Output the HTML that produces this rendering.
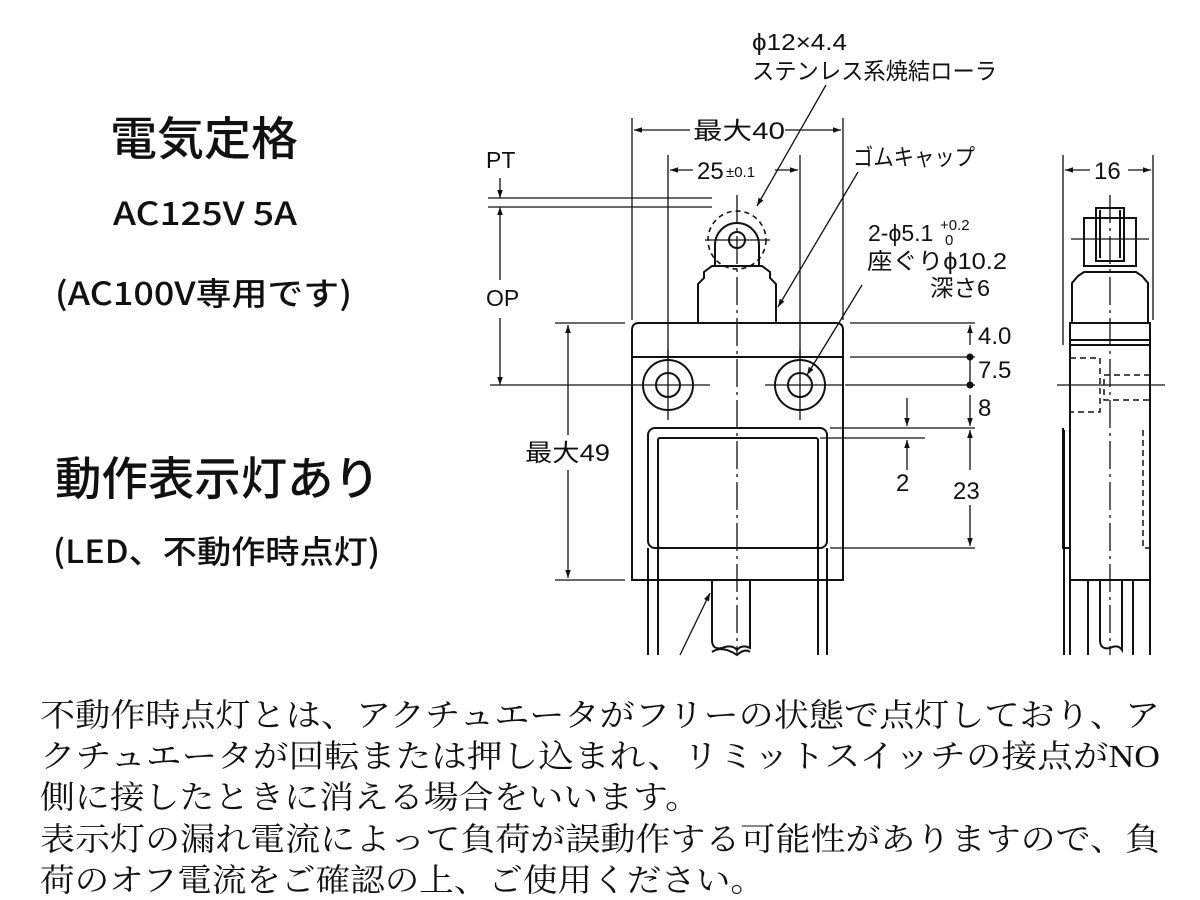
<!DOCTYPE html>
<html><head><meta charset="utf-8"><style>
html,body{margin:0;padding:0;background:#fff}
svg{display:block}
.s{font-family:"Liberation Sans","Noto Sans CJK JP",sans-serif;fill:#111}
.j{font-family:"Noto Sans CJK JP",sans-serif;fill:#111;font-weight:500}
.m{font-family:"Liberation Serif","Noto Serif CJK SC",serif;fill:#111}
</style></head><body>
<svg width="1200" height="900" viewBox="0 0 1200 900" xmlns="http://www.w3.org/2000/svg">
<defs>
<marker id="a" viewBox="0 0 10 10" refX="10" refY="5" markerWidth="11" markerHeight="8" orient="auto-start-reverse" markerUnits="userSpaceOnUse"><path d="M0,1.5 L10,5 L0,8.5z" fill="#111"/></marker>
</defs>
<text class="j" x="110" y="155" font-size="46" textLength="188" lengthAdjust="spacingAndGlyphs">電気定格</text>
<text class="j" x="113" y="225" font-size="32" textLength="184" lengthAdjust="spacingAndGlyphs">AC125V 5A</text>
<text class="j" x="55" y="305" font-size="32" textLength="297" lengthAdjust="spacingAndGlyphs">(AC100V専用です)</text>
<text class="j" x="55" y="495" font-size="46" textLength="325" lengthAdjust="spacingAndGlyphs">動作表示灯あり</text>
<text class="j" x="53" y="563" font-size="32" textLength="327" lengthAdjust="spacingAndGlyphs">(LED、不動作時点灯)</text>

<g stroke="#111" stroke-width="2" fill="none">
<path d="M632,580 L632,330 Q632,323 639,323 L836,323 Q843,323 843,330 L843,580 Z"/>
<line x1="632" y1="357" x2="843" y2="357"/>
<circle cx="668" cy="385" r="25"/><circle cx="668" cy="385" r="12"/>
<circle cx="800" cy="385" r="25"/><circle cx="800" cy="385" r="12"/>
<rect x="648" y="428" width="179" height="120" rx="7"/>
<rect x="658" y="438" width="160" height="110" rx="2"/>
<path d="M698,323 L698,284 L704,278 L704,272 L712,266 L762,266 L770,272 L770,278 L776,284 L776,323"/>
<path d="M715,266 L715,245 A22,22 0 1 1 759,245 L759,266"/>
<circle cx="737" cy="240" r="8"/>
<circle cx="737" cy="240" r="29" stroke-dasharray="5,4" stroke-width="1.6"/>
<path d="M712,580 L712,640 Q712,650 722,648 Q732,644 737,650 Q742,644 750,648 L750,580"/>
<path d="M712,652 Q722,645 737,655 Q745,648 750,652"/>
<line x1="648" y1="548" x2="648" y2="655"/><line x1="658" y1="548" x2="658" y2="655"/>
<line x1="818" y1="548" x2="818" y2="655"/><line x1="827" y1="548" x2="827" y2="655"/>
</g>
<g stroke="#111" stroke-width="1.3" fill="none">
<line x1="737" y1="195" x2="737" y2="655" stroke-dasharray="28,5,3,5"/>
<line x1="705" y1="240" x2="770" y2="240"/>
<line x1="632" y1="385" x2="710" y2="385"/><line x1="765" y1="385" x2="843" y2="385"/>
<line x1="668" y1="350" x2="668" y2="420"/><line x1="800" y1="350" x2="800" y2="420"/>
<line x1="632" y1="118" x2="632" y2="320"/><line x1="843" y1="118" x2="843" y2="320"/>
<line x1="690" y1="130" x2="634" y2="130" marker-end="url(#a)"/>
<line x1="785" y1="130" x2="841" y2="130" marker-end="url(#a)"/>
<line x1="668" y1="155" x2="668" y2="360"/><line x1="800" y1="155" x2="800" y2="360"/>
<line x1="693" y1="170" x2="670" y2="170" marker-end="url(#a)"/>
<line x1="775" y1="170" x2="798" y2="170" marker-end="url(#a)"/>
<line x1="488" y1="198" x2="712" y2="198"/><line x1="488" y1="207" x2="712" y2="207"/>
<line x1="500" y1="178" x2="500" y2="198" marker-end="url(#a)"/>
<line x1="500" y1="280" x2="500" y2="207" marker-end="url(#a)"/>
<line x1="500" y1="318" x2="500" y2="385" marker-end="url(#a)"/>
<line x1="490" y1="385" x2="632" y2="385"/>
<line x1="555" y1="323" x2="625" y2="323"/><line x1="555" y1="580" x2="625" y2="580"/>
<line x1="568" y1="435" x2="568" y2="325" marker-end="url(#a)"/>
<line x1="568" y1="470" x2="568" y2="578" marker-end="url(#a)"/>
<line x1="850" y1="323" x2="975" y2="323"/><line x1="850" y1="357" x2="975" y2="357"/>
<line x1="845" y1="385" x2="975" y2="385"/>
<line x1="830" y1="428" x2="975" y2="428"/><line x1="820" y1="438" x2="925" y2="438"/>
<line x1="830" y1="548" x2="975" y2="548"/>
<line x1="970" y1="345" x2="970" y2="325" marker-end="url(#a)"/>
<line x1="970" y1="357" x2="970" y2="385"/>
<line x1="970" y1="395" x2="970" y2="426" marker-end="url(#a)"/>
<line x1="970" y1="470" x2="970" y2="430" marker-end="url(#a)"/>
<line x1="970" y1="505" x2="970" y2="546" marker-end="url(#a)"/>
<line x1="907" y1="398" x2="907" y2="426" marker-end="url(#a)"/>
<line x1="907" y1="470" x2="907" y2="440" marker-end="url(#a)"/>
<line x1="826" y1="85" x2="757" y2="206" marker-end="url(#a)"/>
<line x1="858" y1="172" x2="778" y2="307" marker-end="url(#a)"/>
<line x1="862" y1="285" x2="807" y2="375" marker-end="url(#a)"/>
<line x1="680" y1="655" x2="710" y2="593" marker-end="url(#a)"/>
</g>
<circle cx="970" cy="357" r="3.5" fill="#111"/><circle cx="970" cy="385" r="3.5" fill="#111"/>

<g stroke="#111" stroke-width="2" fill="none">
<rect x="1070" y="323" width="80" height="257"/>
<line x1="1070" y1="340" x2="1150" y2="340"/><line x1="1070" y1="345" x2="1150" y2="345"/>
<path d="M1072,323 L1072,283 L1078,276 L1084,272 L1136,272 L1142,276 L1148,283 L1148,323"/>
<rect x="1084" y="218" width="52" height="48"/>
<rect x="1096" y="208" width="28" height="53"/>
<line x1="1100" y1="210" x2="1100" y2="258"/><line x1="1120" y1="210" x2="1120" y2="258"/>
<line x1="1088" y1="580" x2="1088" y2="655"/><line x1="1133" y1="580" x2="1133" y2="655"/>
<line x1="1064" y1="430" x2="1064" y2="655"/><line x1="1070" y1="580" x2="1070" y2="655"/>
<line x1="1150" y1="580" x2="1150" y2="655"/>
<path d="M1063,428 L1063,548 L1070,548"/>
<path d="M1100,580 L1100,640 Q1100,650 1110,648 Q1118,644 1122,650 L1122,580"/>
</g>
<g stroke="#111" stroke-width="1.5" fill="none" stroke-dasharray="6,4">
<path d="M1070,358 L1100,358 L1100,412 L1070,412"/>
<path d="M1150,375 L1104,375 L1104,400 L1150,400"/>
<path d="M1143,430 L1143,548 L1150,548"/>
</g>
<g stroke="#111" stroke-width="1.3" fill="none">
<line x1="1063" y1="155" x2="1063" y2="345"/><line x1="1153" y1="155" x2="1153" y2="320"/>
<line x1="1090" y1="170" x2="1065" y2="170" marker-end="url(#a)"/>
<line x1="1128" y1="170" x2="1151" y2="170" marker-end="url(#a)"/>
<line x1="1110" y1="195" x2="1110" y2="655" stroke-dasharray="28,5,3,5"/>
<line x1="1071" y1="239" x2="1149" y2="239"/>
<line x1="1057" y1="385" x2="1165" y2="385"/>
</g>

<text class="s" x="752" y="50" font-size="23" textLength="95" lengthAdjust="spacingAndGlyphs">ϕ12×4.4</text>
<text class="s" x="752" y="79" font-size="23" textLength="245" lengthAdjust="spacingAndGlyphs">ステンレス系焼結ローラ</text>
<text class="s" x="693" y="139" font-size="24" textLength="92" lengthAdjust="spacingAndGlyphs">最大40</text>
<text class="s" x="697" y="179" font-size="24">25</text><text class="s" x="726" y="177" font-size="15">±0.1</text>
<text class="s" x="853" y="165" font-size="23" textLength="122" lengthAdjust="spacingAndGlyphs">ゴムキャップ</text>
<text class="s" x="868" y="241" font-size="23">2-ϕ5.1</text><text class="s" x="940" y="230" font-size="15">+0.2</text><text class="s" x="945" y="245" font-size="15">0</text>
<text class="s" x="867" y="269" font-size="23" textLength="140" lengthAdjust="spacingAndGlyphs">座ぐりϕ10.2</text>
<text class="s" x="930" y="296" font-size="23" textLength="60" lengthAdjust="spacingAndGlyphs">深さ6</text>
<text class="s" x="486" y="168" font-size="23">PT</text>
<text class="s" x="486" y="306" font-size="23">OP</text>
<text class="s" x="525" y="461" font-size="24" textLength="85" lengthAdjust="spacingAndGlyphs">最大49</text>
<text class="s" x="978" y="344" font-size="24">4.0</text>
<text class="s" x="978" y="378" font-size="24">7.5</text>
<text class="s" x="978" y="416" font-size="24">8</text>
<text class="s" x="896" y="491" font-size="24">2</text>
<text class="s" x="953" y="499" font-size="24">23</text>
<text class="s" x="1094" y="179" font-size="24">16</text>

<text class="m" x="40" y="726" font-size="32" textLength="1120" lengthAdjust="spacingAndGlyphs">不動作時点灯とは、アクチュエータがフリーの状態で点灯しており、ア</text>
<text class="m" x="40" y="767" font-size="32" textLength="1120" lengthAdjust="spacingAndGlyphs">クチュエータが回転または押し込まれ、リミットスイッチの接点がNO</text>
<text class="m" x="40" y="808" font-size="32" textLength="660" lengthAdjust="spacingAndGlyphs">側に接したときに消える場合をいいます。</text>
<text class="m" x="40" y="850" font-size="32" textLength="1120" lengthAdjust="spacingAndGlyphs">表示灯の漏れ電流によって負荷が誤動作する可能性がありますので、負</text>
<text class="m" x="40" y="891" font-size="32" textLength="725" lengthAdjust="spacingAndGlyphs">荷のオフ電流をご確認の上、ご使用ください。</text>
</svg>
</body></html>
